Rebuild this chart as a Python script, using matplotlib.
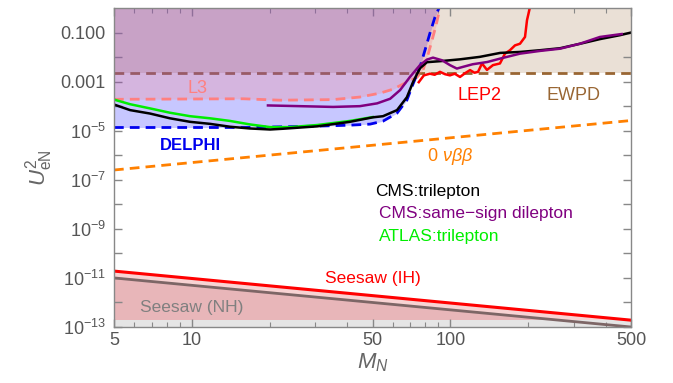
import matplotlib
matplotlib.use('Agg')
import matplotlib.pyplot as plt
from matplotlib.ticker import FixedLocator, FixedFormatter, NullFormatter

plt.rcParams['font.family'] = ['Liberation Sans', 'DejaVu Sans']
plt.rcParams['mathtext.fontset'] = 'custom'
plt.rcParams['mathtext.rm'] = 'Liberation Sans'
plt.rcParams['mathtext.it'] = 'Liberation Sans:italic'
plt.rcParams['mathtext.bf'] = 'Liberation Sans:bold'

# ---- data ----
delphi_M = [5, 15.8, 30.5, 40.9, 48.9, 54.9, 62.2, 67.9, 71.7, 76.3, 79.8, 83.4, 87.2, 90.4]
delphi_U = [1.35e-5, 1.35e-5, 1.53e-5, 1.68e-5, 1.85e-5, 2.45e-5, 5.2e-5, 1.75e-4,
            7.9e-4, 3.9e-3, 1.9e-2, 9.4e-2, 0.42, 1.0]

l3_M = [5, 15.8, 21.9, 35.2, 44.7, 53.5, 60, 67.9, 74.3, 78.4, 81.9, 85, 88.1, 91.2]
l3_U = [1.9e-4, 2.0e-4, 1.75e-4, 1.85e-4, 2.35e-4, 3.4e-4, 4.9e-4, 9.5e-4,
        1.5e-3, 2.95e-3, 1.2e-2, 4.9e-2, 0.2, 1.0]

ewpd_U = 2.3e-3

cms3l_M = [4.96, 5.77, 6.89, 8.23, 9.84, 11.76, 14.05, 16.79, 20.07, 22.5, 30.5, 40.9,
           50.1, 54.9, 62.2, 67.9, 71.7, 76.3, 81.2, 91.2, 109, 130, 156, 186, 222, 266,
           318, 379, 453, 500]
cms3l_U = [1.2e-4, 6.9e-5, 5.0e-5, 3.2e-5, 2.3e-5, 1.9e-5, 1.45e-5, 1.23e-5, 1.12e-5,
           1.2e-5, 1.5e-5, 2.3e-5, 3.5e-5, 3.9e-5, 6.9e-5, 2.3e-4, 9.5e-4, 3.5e-3, 6.2e-3,
           6.8e-3, 8.1e-3, 1.02e-2, 1.48e-2, 1.62e-2, 1.9e-2, 2.3e-2, 3.5e-2, 5.4e-2,
           7.8e-2, 0.1]

atlas_M = [4.96, 5.77, 6.89, 8.23, 9.84, 11.76, 14.05, 16.79, 20.07, 24.0, 30.5, 40.9, 50.1]
atlas_U = [1.9e-4, 1.2e-4, 8.1e-5, 5.4e-5, 3.9e-5, 3.2e-5, 2.5e-5, 1.8e-5, 1.4e-5,
           1.4e-5, 1.7e-5, 2.5e-5, 3.6e-5]

cmsss_M = [19.7, 26.2, 35.2, 44.7, 52.1, 58.5, 63.9, 69.8, 76.3, 81.2, 85.7, 92.9, 99.7,
           106, 112, 122, 139, 156, 186, 222, 266, 317, 379, 460]
cmsss_U = [1.07e-4, 1.0e-4, 9.3e-5, 1.0e-4, 1.3e-4, 2.0e-4, 4.5e-4, 1.55e-3, 4.7e-3,
           7.9e-3, 9.5e-3, 7.4e-3, 4.7e-3, 3.4e-3, 4.0e-3, 5.1e-3, 6.3e-3, 8.7e-3,
           1.38e-2, 1.78e-2, 2.2e-2, 3.5e-2, 6.6e-2, 8.7e-2]

lep2_M = [75.5, 79, 83.4, 87, 91.2, 95.5, 99.7, 104, 109, 114, 119.2, 124, 128, 132.6,
          138.6, 146.2, 155.6, 162.7, 170.1, 177.9, 186, 194.5, 198, 203.4]
lep2_U = [9.5e-4, 1.8e-3, 2.1e-3, 1.9e-3, 2.5e-3, 2.0e-3, 1.8e-3, 2.1e-3, 1.55e-3,
          2.2e-3, 2.95e-3, 2.3e-3, 2.5e-3, 5.5e-3, 3.0e-3, 4.7e-3, 5.5e-3, 1.38e-2,
          1.9e-2, 3.0e-2, 3.5e-2, 6.6e-2, 0.32, 1.1]

bb0n_M = [5, 500]
bb0n_U = [2.5e-7, 2.6e-5]

seesaw_M = [5, 500]
ih_U = [1.9e-11, 1.9e-13]
nh_U = [1.0e-11, 1.0e-13]

# ---- figure ----
fig = plt.figure(figsize=(6.73, 3.83), dpi=100)
ax = fig.add_axes([0.1694, 0.1462, 0.7682, 0.8329])
ax.set_xscale('log')
ax.set_yscale('log')
ax.set_xlim(5, 500)
ax.set_ylim(1e-13, 1)

# seesaw bands
ax.fill_between(seesaw_M, [2e-13, 2e-13], nh_U, color='#e8b6b9', lw=0, zorder=1)
ax.fill_between(seesaw_M, nh_U, ih_U, color='#f8d3d3', lw=0, zorder=1)
ax.axhspan(1e-13, 2e-13, color='#e5e5e5', lw=0, zorder=1.5)
ax.plot(seesaw_M, nh_U, color='#7d6666', lw=2, zorder=2)
ax.plot(seesaw_M, ih_U, color='#ff0000', lw=2.2, zorder=2)

# EWPD
ax.axhspan(ewpd_U, 1, color='#996633', alpha=0.2, lw=0, zorder=1)
ax.axhline(ewpd_U, color='#996633', lw=2, ls=(0, (3.5, 2.2)), zorder=1.6)

# DELPHI and L3 shaded regions (drawn over the EWPD line)
ax.fill_between(delphi_M, delphi_U, 1, color='#0000ff', alpha=0.22, lw=0, zorder=2)
ax.fill_between(l3_M, l3_U, 1, color='#ff8080', alpha=0.25, lw=0, zorder=2)

ax.plot(bb0n_M, bb0n_U, color='#ff8000', lw=2, ls=(0, (3.5, 2.2)), zorder=3)
ax.plot(l3_M, l3_U, color='#ff8080', lw=2, ls=(0, (3.5, 2.2)), zorder=3)
ax.plot(delphi_M, delphi_U, color='#0000ee', lw=2, ls=(0, (3.5, 2.2)), zorder=3)
ax.plot(lep2_M, lep2_U, color='#ff0000', lw=1.8, zorder=4)
ax.plot(atlas_M, atlas_U, color='#00ee00', lw=1.8, zorder=4)
ax.plot(cms3l_M, cms3l_U, color='black', lw=1.8, zorder=4)
ax.plot(cmsss_M, cmsss_U, color='#800080', lw=1.8, zorder=4)

# labels on the plot
ax.text(10.5, 5.4e-4, 'L3', color='#ff8080', fontsize=13, ha='center', va='center', zorder=5)
ax.text(9.9, 2.6e-6, 'DELPHI', color='#0000ee', fontsize=12, fontweight='bold',
        ha='center', va='center', zorder=5)
ax.text(130, 2.8e-4, 'LEP2', color='#ff0000', fontsize=13, ha='center', va='center', zorder=5)
ax.text(300, 2.8e-4, 'EWPD', color='#996633', fontsize=13, ha='center', va='center', zorder=5)
ax.text(100, 8.6e-7, r'0 $\nu\beta\beta$', color='#ff8000', fontsize=13,
        ha='center', va='center', zorder=5)
ax.text(51, 3.2e-8, 'CMS:trilepton', color='black', fontsize=12.5, ha='left', va='center', zorder=5)
ax.text(53, 4.4e-9, 'CMS:same\u2212sign dilepton', color='#800080', fontsize=12.5,
        ha='left', va='center', zorder=5)
ax.text(53, 5.1e-10, 'ATLAS:trilepton', color='#00ee00', fontsize=12.5,
        ha='left', va='center', zorder=5)
ax.text(50, 9.1e-12, 'Seesaw (IH)', color='#ff0000', fontsize=12.5, ha='center', va='center', zorder=5)
ax.text(10, 6.3e-13, 'Seesaw (NH)', color='#808080', fontsize=12.5, ha='center', va='center', zorder=5)

# ticks
xmaj = [5, 10, 50, 100, 500]
xmin = [6, 7, 8, 9, 20, 30, 40, 60, 70, 80, 90, 200, 300, 400]
ax.xaxis.set_major_locator(FixedLocator(xmaj))
ax.xaxis.set_major_formatter(FixedFormatter([str(v) for v in xmaj]))
ax.xaxis.set_minor_locator(FixedLocator(xmin))
ax.xaxis.set_minor_formatter(NullFormatter())

yexp = list(range(-13, 0))
ylabels = []
for e in yexp:
    if e == -1:
        ylabels.append('0.100')
    elif e == -3:
        ylabels.append('0.001')
    elif e % 2 == 1 or e % 2 == -1:
        ylabels.append(r'$10^{%d}$' % e)
    else:
        ylabels.append('')
ax.yaxis.set_major_locator(FixedLocator([10.0 ** e for e in yexp]))
ax.yaxis.set_major_formatter(FixedFormatter(ylabels))
ax.yaxis.set_minor_locator(FixedLocator([]))

grey = '#888888'
ax.tick_params(which='both', direction='in', top=True, right=True, color=grey,
               labelcolor='#555555', labelsize=13)
ax.tick_params(which='major', length=5.5, width=1)
ax.tick_params(which='minor', length=3.5, width=0.8)
ax.tick_params(axis='y', pad=6)
for sp in ax.spines.values():
    sp.set_color(grey)
    sp.set_linewidth(1)
    sp.set_zorder(6)

ax.set_xlabel(r'$M_N$', fontsize=16, color='#666666', labelpad=2)
ax.set_ylabel(r'$U^2_{\rm eN}$', fontsize=16, color='#666666', labelpad=4)

fig.savefig('out.png', dpi=100)
